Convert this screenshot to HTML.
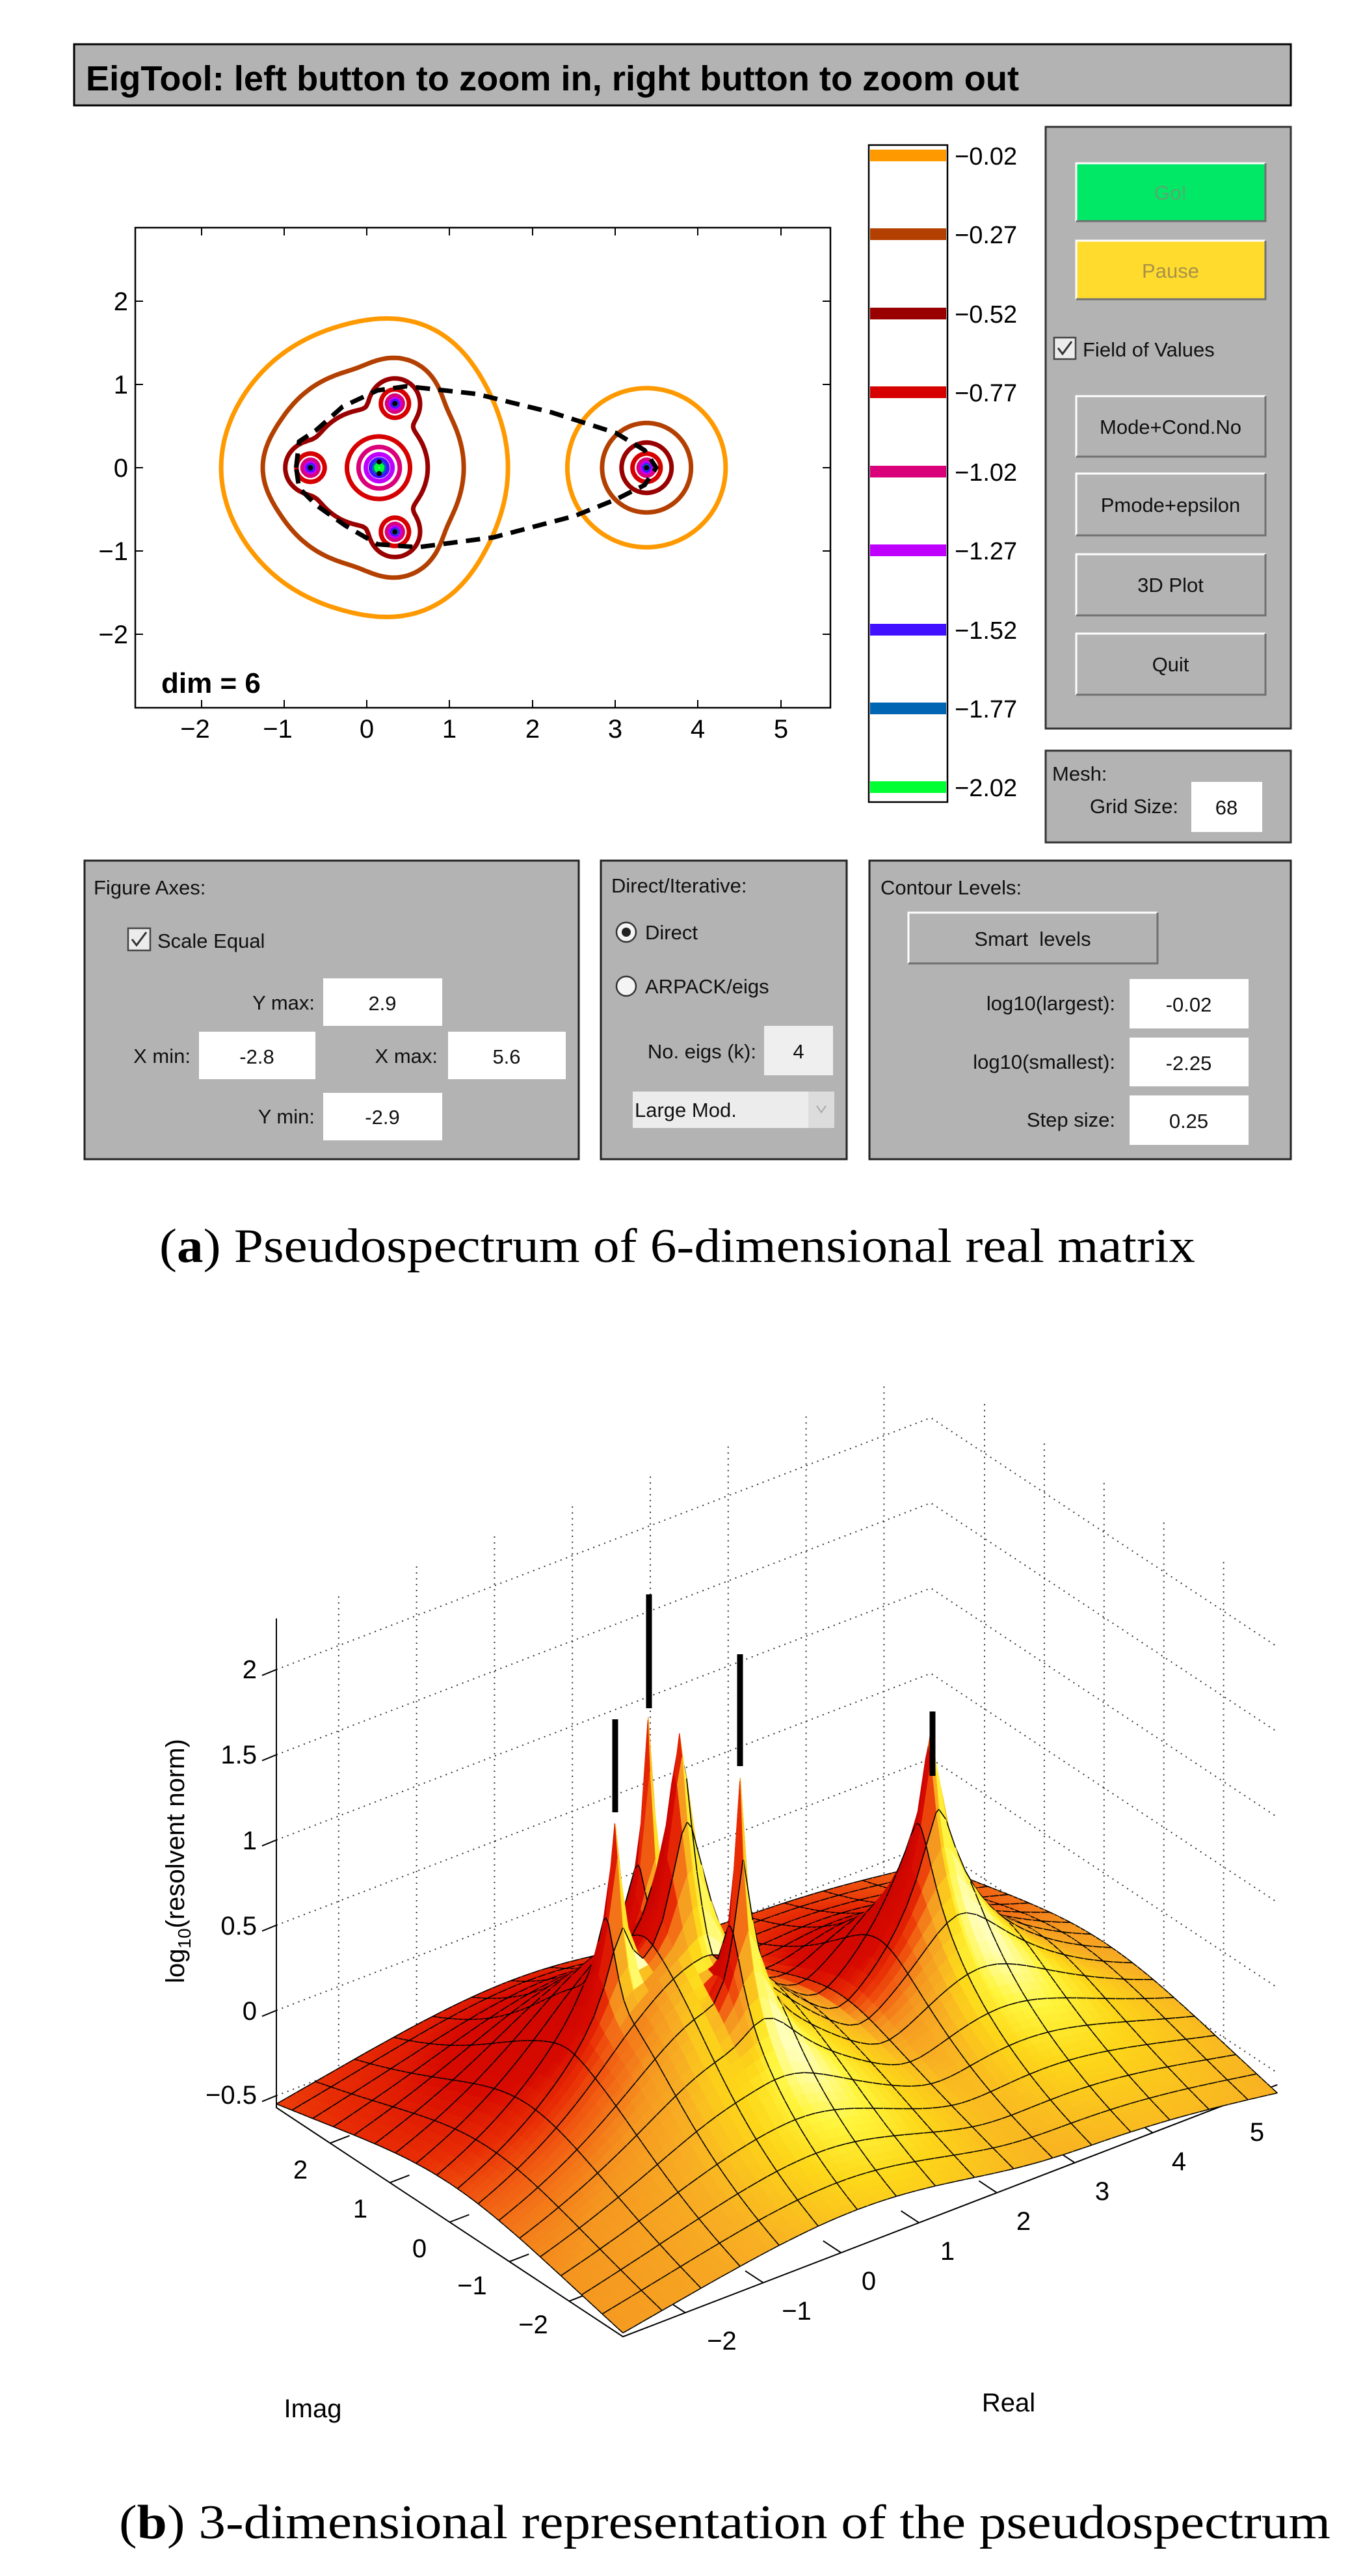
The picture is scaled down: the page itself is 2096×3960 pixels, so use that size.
<!DOCTYPE html>
<html><head><meta charset="utf-8"><style>
html,body{margin:0;padding:0;background:#fff;}
svg{display:block;}
text{font-family:"Liberation Sans",Arial,sans-serif;}
.g{font-size:31px;fill:#111;}
.ser{font-family:"Liberation Serif","DejaVu Serif",serif;}
</style></head><body>
<svg id="s" xmlns="http://www.w3.org/2000/svg" width="2096" height="3960" viewBox="0 0 2096 3960">
<rect width="2096" height="3960" fill="#fff"/>
<rect x="114" y="68" width="1871" height="94" fill="#b3b3b3" stroke="#000" stroke-width="3"/>
<text x="132" y="139" font-size="54" font-weight="bold" textLength="1435" lengthAdjust="spacingAndGlyphs">EigTool: left button to zoom in, right button to zoom out</text>

<g id="contours"></g>
<rect x="208" y="350" width="1069" height="738" fill="none" stroke="#000" stroke-width="2.5"/>
<g stroke="#000" stroke-width="2">
<path d="M310 1088v-12M437 1088v-12M564 1088v-12M691 1088v-12M819 1088v-12M946 1088v-12M1073 1088v-12M1201 1088v-12
M310 350v12M437 350v12M564 350v12M691 350v12M819 350v12M946 350v12M1073 350v12M1201 350v12
M208 463h12M208 591h12M208 719h12M208 847h12M208 975h12M1277 463h-12M1277 591h-12M1277 719h-12M1277 847h-12M1277 975h-12"/>
</g>
<g font-size="40" text-anchor="middle">
<text x="300" y="1134">−2</text><text x="427" y="1134">−1</text><text x="564" y="1134">0</text><text x="691" y="1134">1</text><text x="819" y="1134">2</text><text x="946" y="1134">3</text><text x="1073" y="1134">4</text><text x="1201" y="1134">5</text>
</g>
<g font-size="40" text-anchor="end">
<text x="197" y="477">2</text><text x="197" y="605">1</text><text x="197" y="733">0</text><text x="197" y="861">−1</text><text x="197" y="989">−2</text>
</g>
<text x="248" y="1065" font-size="44" font-weight="bold">dim = 6</text>

<rect x="1336" y="223" width="121" height="1010" fill="#fff" stroke="#000" stroke-width="2.5"/>
<g>
<rect x="1338" y="230" width="117" height="18" fill="#ff9900"/>
<rect x="1338" y="351" width="117" height="18" fill="#b34000"/>
<rect x="1338" y="473" width="117" height="18" fill="#990000"/>
<rect x="1338" y="594" width="117" height="18" fill="#d60000"/>
<rect x="1338" y="716" width="117" height="18" fill="#d9007a"/>
<rect x="1338" y="837" width="117" height="18" fill="#bf00ff"/>
<rect x="1338" y="959" width="117" height="18" fill="#4010ff"/>
<rect x="1338" y="1080" width="117" height="18" fill="#0066b3"/>
<rect x="1338" y="1201" width="117" height="18" fill="#00ff33"/>
</g>
<g font-size="38">
<text x="1468" y="253">−0.02</text><text x="1468" y="374">−0.27</text><text x="1468" y="496">−0.52</text><text x="1468" y="617">−0.77</text><text x="1468" y="739">−1.02</text><text x="1468" y="860">−1.27</text><text x="1468" y="982">−1.52</text><text x="1468" y="1103">−1.77</text><text x="1468" y="1224">−2.02</text>
</g>

<rect x="1608" y="195" width="377" height="925" fill="#b3b3b3" stroke="#333" stroke-width="3"/>
<g>
<rect x="1655" y="251" width="291" height="89" fill="#00e865"/>
<path d="M1655 340V251H1946" fill="none" stroke="#fff" stroke-width="3"/><path d="M1655 340H1946V251" fill="none" stroke="#707070" stroke-width="3"/>
<rect x="1655" y="370" width="291" height="90" fill="#ffdb2e"/>
<path d="M1655 460V370H1946" fill="none" stroke="#fff" stroke-width="3"/><path d="M1655 460H1946V370" fill="none" stroke="#707070" stroke-width="3"/>
<rect x="1655" y="609" width="291" height="93" fill="#b3b3b3"/>
<path d="M1655 702V609H1946" fill="none" stroke="#fff" stroke-width="3"/><path d="M1655 702H1946V609" fill="none" stroke="#707070" stroke-width="3"/>
<rect x="1655" y="728" width="291" height="95" fill="#b3b3b3"/>
<path d="M1655 823V728H1946" fill="none" stroke="#fff" stroke-width="3"/><path d="M1655 823H1946V728" fill="none" stroke="#707070" stroke-width="3"/>
<rect x="1655" y="852" width="291" height="94" fill="#b3b3b3"/>
<path d="M1655 946V852H1946" fill="none" stroke="#fff" stroke-width="3"/><path d="M1655 946H1946V852" fill="none" stroke="#707070" stroke-width="3"/>
<rect x="1655" y="974" width="291" height="94" fill="#b3b3b3"/>
<path d="M1655 1068V974H1946" fill="none" stroke="#fff" stroke-width="3"/><path d="M1655 1068H1946V974" fill="none" stroke="#707070" stroke-width="3"/>
</g>
<g class="g" text-anchor="middle">
<text x="1800" y="307" fill="#5aa870">Go!</text>
<text x="1800" y="427" fill="#a8924a">Pause</text>
<text x="1800" y="667">Mode+Cond.No</text>
<text x="1800" y="787">Pmode+epsilon</text>
<text x="1800" y="910">3D Plot</text>
<text x="1800" y="1032">Quit</text>
</g>
<rect x="1621" y="519" width="33" height="33" fill="#ececec" stroke="#444" stroke-width="2.5"/>
<path d="M1627 535l7 9l14-19" fill="none" stroke="#333" stroke-width="3"/>
<text class="g" x="1665" y="548">Field of Values</text>

<rect x="1608" y="1154" width="377" height="141" fill="#b3b3b3" stroke="#333" stroke-width="3"/>
<text class="g" x="1618" y="1200">Mesh:</text>
<text class="g" x="1812" y="1250" text-anchor="end">Grid Size:</text>
<rect x="1832" y="1202" width="109" height="77" fill="#fff"/>
<text class="g" x="1886" y="1252" text-anchor="middle">68</text>

<rect x="130" y="1323" width="760" height="459" fill="#b3b3b3" stroke="#222" stroke-width="3"/>
<text class="g" x="144" y="1375">Figure Axes:</text>
<rect x="197" y="1427" width="34" height="34" fill="#ececec" stroke="#444" stroke-width="2.5"/>
<path d="M203 1444l7 9l15-20" fill="none" stroke="#333" stroke-width="3"/>
<text class="g" x="242" y="1457">Scale Equal</text>
<text class="g" x="484" y="1552" text-anchor="end">Y max:</text>
<rect x="497" y="1504" width="183" height="73" fill="#fff"/>
<text class="g" x="588" y="1553" text-anchor="middle">2.9</text>
<text class="g" x="293" y="1634" text-anchor="end">X min:</text>
<rect x="306" y="1586" width="179" height="73" fill="#fff"/>
<text class="g" x="395" y="1635" text-anchor="middle">-2.8</text>
<text class="g" x="673" y="1634" text-anchor="end">X max:</text>
<rect x="689" y="1586" width="181" height="73" fill="#fff"/>
<text class="g" x="779" y="1635" text-anchor="middle">5.6</text>
<text class="g" x="484" y="1727" text-anchor="end">Y min:</text>
<rect x="497" y="1680" width="183" height="73" fill="#fff"/>
<text class="g" x="588" y="1728" text-anchor="middle">-2.9</text>

<rect x="924" y="1323" width="378" height="459" fill="#b3b3b3" stroke="#222" stroke-width="3"/>
<text class="g" x="940" y="1372">Direct/Iterative:</text>
<circle cx="963" cy="1433" r="15" fill="#f4f4f4" stroke="#333" stroke-width="2.5"/>
<circle cx="963" cy="1433" r="7" fill="#222"/>
<text class="g" x="992" y="1444">Direct</text>
<circle cx="963" cy="1516" r="15" fill="#f4f4f4" stroke="#333" stroke-width="2.5"/>
<text class="g" x="992" y="1527">ARPACK/eigs</text>
<text class="g" x="1163" y="1627" text-anchor="end">No. eigs (k):</text>
<rect x="1175" y="1577" width="106" height="76" fill="#efefef"/>
<text class="g" x="1228" y="1627" text-anchor="middle" fill="#888">4</text>
<rect x="973" y="1678" width="310" height="56" fill="#ececec"/>
<rect x="1243" y="1678" width="40" height="56" fill="#dcdcdc"/>
<text class="g" x="976" y="1717" fill="#9a9a9a">Large Mod.</text>
<path d="M1256 1700l7 10l7-10" fill="none" stroke="#aaa" stroke-width="2"/>

<rect x="1337" y="1323" width="648" height="459" fill="#b3b3b3" stroke="#222" stroke-width="3"/>
<text class="g" x="1354" y="1375">Contour Levels:</text>
<rect x="1397" y="1403" width="383" height="78" fill="#b3b3b3"/>
<path d="M1397 1481V1403H1780" fill="none" stroke="#fff" stroke-width="3"/><path d="M1397 1481H1780V1403" fill="none" stroke="#707070" stroke-width="3"/>
<text class="g" x="1588" y="1454" text-anchor="middle" xml:space="preserve">Smart  levels</text>
<text class="g" x="1715" y="1553" text-anchor="end">log10(largest):</text>
<rect x="1737" y="1505" width="183" height="76" fill="#fff"/>
<text class="g" x="1828" y="1555" text-anchor="middle">-0.02</text>
<text class="g" x="1715" y="1643" text-anchor="end">log10(smallest):</text>
<rect x="1737" y="1595" width="183" height="75" fill="#fff"/>
<text class="g" x="1828" y="1645" text-anchor="middle">-2.25</text>
<text class="g" x="1715" y="1732" text-anchor="end">Step size:</text>
<rect x="1737" y="1684" width="183" height="76" fill="#fff"/>
<text class="g" x="1828" y="1734" text-anchor="middle">0.25</text>

<text class="ser" x="245" y="1940" font-size="74" textLength="1593" lengthAdjust="spacingAndGlyphs">(<tspan font-weight="bold">a</tspan>) Pseudospectrum of 6-dimensional real matrix</text>

<g id="walls" stroke="#333" stroke-width="2" stroke-dasharray="2 7" fill="none"></g>
<g id="axes3" stroke="#000" stroke-width="2" fill="none"></g>
<g id="surf"></g>
<g stroke="#000" stroke-width="9" stroke-linecap="butt">
<line x1="946" y1="2643" x2="946" y2="2786"/>
<line x1="998" y1="2451" x2="998" y2="2626"/>
<line x1="1138" y1="2543" x2="1138" y2="2715"/>
<line x1="1434" y1="2631" x2="1434" y2="2730"/>
</g>
<g font-size="40" text-anchor="end">
<text x="395" y="2580">2</text><text x="395" y="2711">1.5</text><text x="395" y="2843">1</text><text x="395" y="2974">0.5</text><text x="395" y="3105">0</text><text x="395" y="3234">−0.5</text>
</g>
<g font-size="40" text-anchor="middle">
<text x="462" y="3349">2</text><text x="554" y="3409">1</text><text x="645" y="3470">0</text><text x="726" y="3527">−1</text><text x="820" y="3587">−2</text>
<text x="1110" y="3612">−2</text><text x="1225" y="3566">−1</text><text x="1336" y="3520">0</text><text x="1457" y="3474">1</text><text x="1574" y="3428">2</text><text x="1695" y="3382">3</text><text x="1813" y="3336">4</text><text x="1933" y="3291">5</text>
<text x="481" y="3716">Imag</text><text x="1551" y="3707">Real</text>
</g>
<text transform="translate(283,2861) rotate(-90)" font-size="40" text-anchor="middle">log<tspan font-size="28" dy="10">10</tspan><tspan dy="-10">(resolvent norm)</tspan></text>

<text class="ser" x="183" y="3902" font-size="74" textLength="1863" lengthAdjust="spacingAndGlyphs">(<tspan font-weight="bold">b</tspan>) 3-dimensional representation of the pseudospectrum</text>
</svg>
<script>
(function(){
function R(x,y,is3){
  var dc=Math.sqrt(x*x+y*y+0.09);
  var Tc=1/dc+2.84/(dc*dc*dc+1);
  var S=Math.pow(Tc,8);
  var E=[[-0.68,0,1,0.035,0],[0.34,0.77,1,0.019,0],[0.34,-0.77,1,0.019,0],[0.15,0,1,0.058,1],[3.38,0,1,0.051,0]];
  for(var k=0;k<E.length;k++){
    var dx=x-E[k][0],dy=y-E[k][1];
    var e=is3?E[k][3]:0.004;
    var d=Math.sqrt(dx*dx+dy*dy+e*e);
    var t=1/d; if(E[k][4]) t*= (1+3*Math.exp(-Math.sqrt(dx*dx+dy*dy)/0.4));
    S+=Math.pow(t,8);
  }
  return Math.pow(S,1/8);
}
var x0=-2.8,x1=5.6,y0=-2.9,y1=2.9,h=0.03;
var nx=Math.round((x1-x0)/h),ny=Math.round((y1-y0)/h);
var V=[];
for(var j=0;j<=ny;j++){V[j]=[];for(var i=0;i<=nx;i++){V[j][i]=Math.log(R(x0+i*h,y0+j*h,false))/Math.LN10;}}
function SX(x){return 564+127.3*x;} function SY(y){return 719-128*y;}
var levels=[0.02,0.27,0.52,0.77,1.02,1.27,1.52,1.77,2.02];
var cols=["#ff9900","#b34000","#990000","#d60000","#d9007a","#bf00ff","#4010ff","#0066b3","#00ff33"];
var out='<clipPath id="cp"><rect x="208" y="350" width="1069" height="738"/></clipPath><g clip-path="url(#cp)">';
for(var L=0;L<levels.length;L++){
  var lv=levels[L],d='';
  for(var j=0;j<ny;j++)for(var i=0;i<nx;i++){
    var c=[[i,j],[i+1,j],[i+1,j+1],[i,j+1]],pts=[];
    for(var e=0;e<4;e++){
      var a=c[e],b=c[(e+1)%4];
      var va=V[a[1]][a[0]]-lv,vb=V[b[1]][b[0]]-lv;
      if((va<0)!=(vb<0)){var t=va/(va-vb);
        var px=x0+(a[0]+t*(b[0]-a[0]))*h,py=y0+(a[1]+t*(b[1]-a[1]))*h;
        pts.push(SX(px).toFixed(1)+' '+SY(py).toFixed(1));}
    }
    if(pts.length>=2)d+='M'+pts[0]+'L'+pts[1];
    if(pts.length==4)d+='M'+pts[2]+'L'+pts[3];
  }
  out+='<path d="'+d+'" fill="none" stroke="'+cols[L]+'" stroke-width="7" stroke-linecap="round"/>';
}
var fv=[[510,805],[515,760],[545,740],[590,700],[650,672],[700,665],[820,678],[950,710],[1060,745],[1110,775],[1130,805],[1110,835],[1060,860],[990,888],[850,925],[720,942],[650,937],[595,905],[545,870],[515,840],[510,805]];
var fd='M'+fv.map(function(p){return (p[0]*0.893).toFixed(1)+' '+(p[1]*0.893).toFixed(1);}).join('L');
out+='<path d="'+fd+'" fill="none" stroke="#000" stroke-width="7" stroke-dasharray="22 13"/>';
var ev=[[-0.68,0],[0.34,0.77],[0.34,-0.77],[0.15,0.07],[0.15,-0.07],[3.38,0]];
ev.forEach(function(p){out+='<circle cx="'+SX(p[0])+'" cy="'+SY(p[1])+'" r="4" fill="#000"/>';});
out+='</g>';
document.getElementById('contours').innerHTML=out;

function P(re,im,z){return [1026.9+119.8*re-91.9*im, 3137.6-46.1*re-60.7*im-262*z];}
function f2(p){return p[0].toFixed(1)+' '+p[1].toFixed(1);}
var zf=-0.57,zt=2.3,w='';
var zt2=[-0.5,0,0.5,1,1.5,2];
for(var r=-2;r<=5;r++){w+='M'+f2(P(r,2.9,zf))+'L'+f2(P(r,2.9,zt));}
for(var m=-2;m<=2;m++){w+='M'+f2(P(5.6,m,zf))+'L'+f2(P(5.6,m,zt));}
zt2.forEach(function(z){w+='M'+f2(P(-2.8,2.9,z))+'L'+f2(P(5.6,2.9,z))+'L'+f2(P(5.6,-2.9,z));});
document.getElementById('walls').innerHTML='<path d="'+w+'"/>';
var ax='M'+f2(P(-2.8,2.9,zt))+'L'+f2(P(-2.8,2.9,zf))+'L'+f2(P(-2.8,-2.9,zf))+'L'+f2(P(5.6,-2.9,zf));
zt2.forEach(function(z){var p=P(-2.8,2.9,z);ax+='M'+f2(p)+'l-22 9';});
for(var m=-2;m<=2;m++){ax+='M'+f2(P(-2.8,m,zf))+'L'+f2(P(-2.55,m,zf));}
for(var r=-2;r<=5;r++){ax+='M'+f2(P(r,-2.9,zf))+'L'+f2(P(r,-2.6,zf));}
document.getElementById('axes3').innerHTML='<path d="'+ax+'"/>';

var N=68,res=[],ims=[];
for(var i=0;i<N;i++){res.push([-2.8+8.4*i/(N-1),(i%4==0||i==N-1)]);ims.push([-2.9+5.8*i/(N-1),(i%4==0||i==N-1)]);}
[-0.68,0.34,0.15,3.38].forEach(function(v){res.push([v,false]);});
[0,0.77,-0.77].forEach(function(v){ims.push([v,false]);});
res.sort(function(a,b){return a[0]-b[0];});ims.sort(function(a,b){return a[0]-b[0];});
var F=[];
for(var i=0;i<res.length;i++){F[i]=[];for(var j=0;j<ims.length;j++){F[i][j]=Math.log(R(res[i][0],ims[j][0],true))/Math.LN10-0.06;}}
var Lv=[0.35,-0.75,0.55],ln=Math.sqrt(Lv[0]*Lv[0]+Lv[1]*Lv[1]+Lv[2]*Lv[2]);Lv=Lv.map(function(v){return v/ln;});
var stops=[[-1,[190,0,0]],[0.1,[215,10,0]],[0.3,[232,45,5]],[0.45,[242,100,20]],[0.58,[245,150,32]],[0.72,[248,175,35]],[0.84,[253,215,25]],[0.92,[255,245,60]],[1,[255,255,190]]];
function ramp(t){t=Math.max(-1,Math.min(1,t));for(var k=1;k<stops.length;k++){if(t<=stops[k][0]){var a=stops[k-1],b=stops[k],u=(t-a[0])/(b[0]-a[0]);return [0,1,2].map(function(q){return Math.round(a[1][q]+(b[1][q]-a[1][q])*u);});}}return stops[stops.length-1][1];}
var Q=[],K=2.05;
for(var i=0;i<res.length-1;i++)for(var j=0;j<ims.length-1;j++){
  var r0=res[i][0],r1=res[i+1][0],m0=ims[j][0],m1=ims[j+1][0];
  var a=F[i][j],b=F[i+1][j],c=F[i+1][j+1],dd=F[i][j+1];
  var dr=((b+c)-(a+dd))/2/(r1-r0)*K, dm=((dd+c)-(a+b))/2/(m1-m0)*K;
  var nn=Math.sqrt(dr*dr+dm*dm+1),n=[-dr/nn,-dm/nn,1/nn];
  var I=n[0]*Lv[0]+n[1]*Lv[1]+n[2]*Lv[2];
  var col=ramp(I);
  Q.push({d:46.1*(r0+r1)/2+60.7*(m0+m1)/2,i:i,j:j,c:'rgb('+col.join(',')+')'});
}
Q.sort(function(a,b){return b.d-a.d;});
var s=[];
Q.forEach(function(q){
  var i=q.i,j=q.j;
  var p00=P(res[i][0],ims[j][0],F[i][j]),p10=P(res[i+1][0],ims[j][0],F[i+1][j]),p11=P(res[i+1][0],ims[j+1][0],F[i+1][j+1]),p01=P(res[i][0],ims[j+1][0],F[i][j+1]);
  s.push('<path d="M'+f2(p00)+'L'+f2(p10)+'L'+f2(p11)+'L'+f2(p01)+'Z" fill="'+q.c+'" stroke="'+q.c+'" stroke-width="1"/>');
  var ln='';
  if(res[i+1][1])ln+='M'+f2(p10)+'L'+f2(p11);
  if(ims[j+1][1])ln+='M'+f2(p01)+'L'+f2(p11);
  if(i==0&&res[0][1])ln+='M'+f2(p00)+'L'+f2(p01);
  if(j==0&&ims[0][1])ln+='M'+f2(p00)+'L'+f2(p10);
  if(ln)s.push('<path d="'+ln+'" stroke="#000" stroke-width="1.6" fill="none"/>');
});
document.getElementById('surf').innerHTML=s.join('');
})();
</script>
</body></html>
